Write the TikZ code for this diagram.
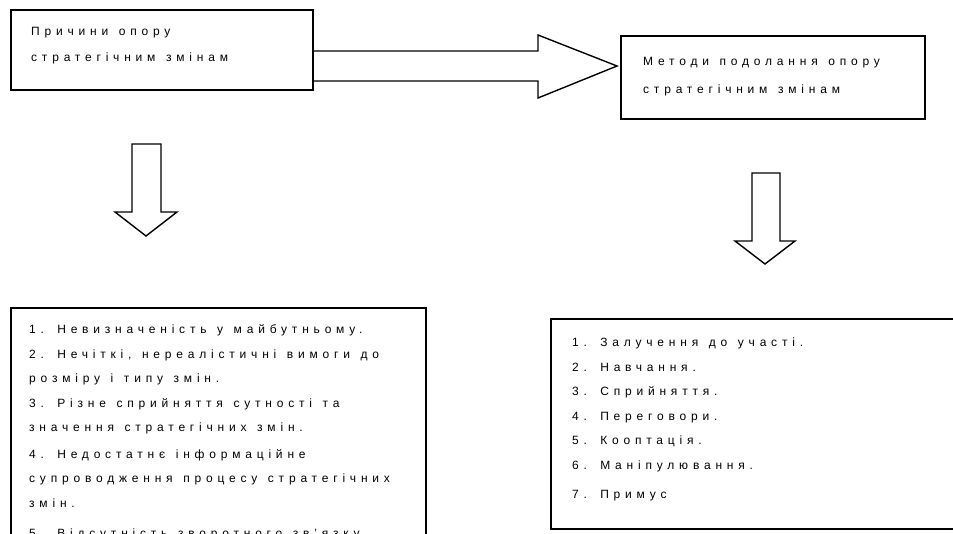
\documentclass[tikz,border=0pt]{standalone}
\usepackage{fontspec}
\setmainfont{Liberation Sans}[LetterSpace=40, WordSpace=1.3]
\begin{document}
\begin{tikzpicture}[x=1pt,y=-1pt,
  box/.style={draw=black, line width=2pt, fill=white, anchor=north west, inner sep=0pt},
  txt/.style={anchor=base west, inner sep=0pt, font=\fontsize{12}{14}\selectfont},
  bigarrow/.style={draw=black, line width=1.4pt, fill=white, line join=miter}]
\useasboundingbox (0,0) rectangle (953,533);
\clip (0,0) rectangle (953,533);
% boxes
\node[box, minimum width=302pt, minimum height=80pt] (b1) at (10,9) {};
\node[box, minimum width=304pt, minimum height=83pt] (b2) at (620,35) {};
\node[box, minimum width=415pt, minimum height=260pt] (b3) at (10,307) {};
\node[box, minimum width=420pt, minimum height=210pt] (b4) at (550,318) {};
% right arrow from b1 to b2
\coordinate (ra1) at (b1.east |- 0,51);
\coordinate (ra2) at (b1.east |- 0,81);
\coordinate (rtip) at (617,66);
\draw[bigarrow] (ra1) -- (538,51) -- (538,35) -- (rtip) -- (538,98) -- (538,81) -- (ra2);
% down arrows
\draw[bigarrow] (132,144) -- (161,144) -- (161,212) -- (177,212) -- (146,236) -- (115,212) -- (132,212) -- cycle;
\draw[bigarrow] (752,173) -- (780,173) -- (780,241) -- (795,241) -- (765,264) -- (735,241) -- (752,241) -- cycle;
% texts box 1
\node[txt] (t11) at (31,35) {Причини опору};
\node[txt] (t12) at (31,61) {стратегічним змінам};
% texts box 2
\node[txt] (t21) at (643,65) {Методи подолання опору};
\node[txt] (t22) at (643,93) {стратегічним змінам};
% texts box 3
\node[txt] (t31) at (29,333) {1. Невизначеність у майбутньому.};
\node[txt] (t32) at (29,358) {2. Нечіткі, нереалістичні вимоги до};
\node[txt] (t33) at (29,382) {розміру і типу змін.};
\node[txt] (t34) at (29,407) {3. Різне сприйняття сутності та};
\node[txt] (t35) at (29,431) {значення стратегічних змін.};
\node[txt] (t36) at (29,458) {4. Недостатнє інформаційне};
\node[txt] (t37) at (29,482) {супроводження процесу стратегічних};
\node[txt] (t38) at (29,507) {змін.};
\node[txt] (t39) at (29,537) {5. Відсутність зворотного зв’язку};
% texts box 4
\node[txt] (t41) at (572,346) {1. Залучення до участі.};
\node[txt] (t42) at (572,371) {2. Навчання.};
\node[txt] (t43) at (572,395) {3. Сприйняття.};
\node[txt] (t44) at (572,420) {4. Переговори.};
\node[txt] (t45) at (572,444) {5. Кооптація.};
\node[txt] (t46) at (572,469) {6. Маніпулювання.};
\node[txt] (t47) at (572,498) {7. Примус};
\end{tikzpicture}
\end{document}
